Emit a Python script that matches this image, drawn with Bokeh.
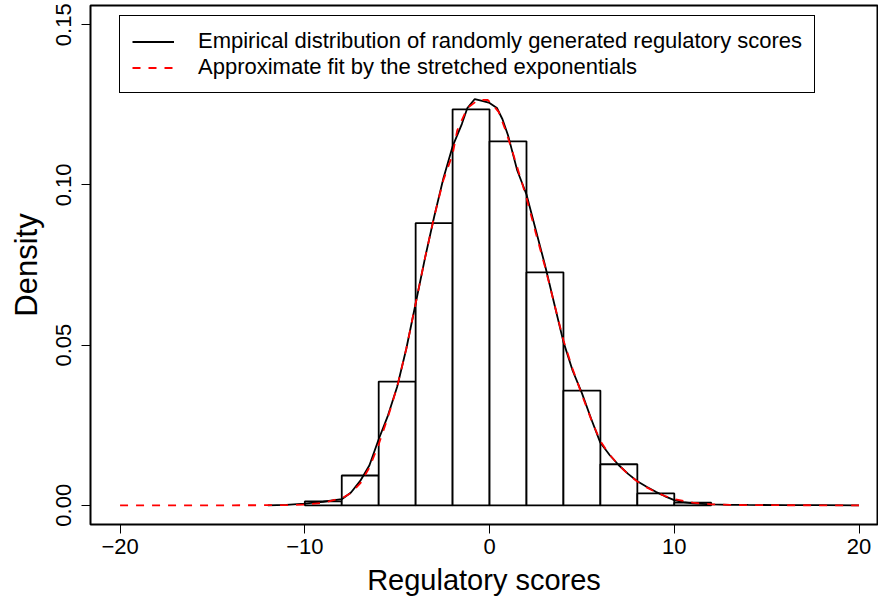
from bokeh.plotting import figure
from bokeh.models import Range1d, Legend, LegendItem, FixedTicker
from bokeh.embed import file_html
from bokeh.resources import INLINE

# Histogram of regulatory scores (density scale), bin width 2
bin_left = [-10, -8, -6, -4, -2, 0, 2, 4, 6, 8, 10]
bin_right = [-8, -6, -4, -2, 0, 2, 4, 6, 8, 10, 12]
hist_density = [0.0012, 0.0093, 0.0386, 0.0881, 0.1236, 0.1136, 0.0727, 0.0358, 0.0128, 0.0037, 0.0008]

# Empirical (kernel) density of randomly generated scores
emp_x = [-12, -11, -10, -9.5, -9, -8.5, -8, -7.5, -7, -6.5, -6, -5.5, -5, -4.5, -4,
         -3.5, -3, -2.5, -2, -1.5, -1.2, -0.8, -0.4, 0, 0.4, 0.7, 1.0, 1.25, 1.5, 2,
         2.5, 3, 3.5, 4, 4.5, 5, 5.5, 6, 6.5, 7, 7.5, 8, 8.5, 9, 9.5, 10, 10.5, 11,
         12, 13, 14, 16, 18, 20]
emp_y = [0.0, 0.0001, 0.0005, 0.0008, 0.0011, 0.0015, 0.0019, 0.0040, 0.0076, 0.0125,
         0.0206, 0.0280, 0.0370, 0.0490, 0.0630, 0.0770, 0.0900, 0.1020, 0.1120, 0.1190,
         0.1240, 0.1268, 0.1262, 0.1256, 0.1240, 0.1205, 0.1155, 0.1100, 0.1045, 0.0970,
         0.0860, 0.0750, 0.0630, 0.0510, 0.0420, 0.0350, 0.0270, 0.0195, 0.0157, 0.0125,
         0.0098, 0.0075, 0.0058, 0.0042, 0.0028, 0.0016, 0.0010, 0.0006, 0.0003, 0.00015,
         0.0001, 0.00005, 0.00002, 0.0]

# Stretched-exponential fit
fit_x = [-20, -16, -14, -12, -11, -10, -9, -8, -7.5, -7, -6.5, -6, -5.5, -5, -4.5, -4,
         -3.5, -3, -2.5, -2, -1.75, -1.2, -0.6, -0.1, 0.15, 0.5, 0.87, 1.23, 1.5, 2,
         2.5, 3, 3.5, 4, 4.5, 5, 5.5, 6, 6.5, 7, 7.5, 8, 8.5, 9, 9.5, 10, 11, 12, 13,
         14, 16, 18, 20]
fit_y = [0.0, 0.0, 0.0, 0.00002, 0.00006, 0.0002, 0.0008, 0.0022, 0.0038, 0.0068,
         0.0118, 0.0190, 0.0275, 0.0370, 0.0490, 0.0630, 0.0770, 0.0900, 0.1015, 0.1095,
         0.1170, 0.1240, 0.1266, 0.1265, 0.1252, 0.1227, 0.1170, 0.1106, 0.1055, 0.0960,
         0.0850, 0.0745, 0.0630, 0.0515, 0.0425, 0.0345, 0.0268, 0.0200, 0.0158, 0.0125,
         0.0097, 0.0074, 0.0056, 0.0041, 0.0029, 0.0019, 0.0008, 0.0003, 0.00012, 0.00005,
         0.00001, 0.0, 0.0]

x_ticks = [-20, -10, 0, 10, 20]
y_ticks = [0.00, 0.05, 0.10, 0.15]
y_tick_labels = {0.0: "0.00", 0.05: "0.05", 0.1: "0.10", 0.15: "0.15"}

FONT = "Liberation Sans"

p = figure(width=878, height=598, output_backend="svg", toolbar_location=None,
           x_range=Range1d(-21.6, 21.0), y_range=Range1d(-0.006, 0.156),
           min_border_left=90, min_border_right=1, min_border_top=5, min_border_bottom=74)
p.background_fill_color = "white"
p.border_fill_color = "white"
p.outline_line_color = "black"
p.outline_line_width = 2
p.xgrid.visible = False
p.ygrid.visible = False

p.quad(left=bin_left, right=bin_right, bottom=0, top=hist_density,
       fill_color="white", line_color="black", line_width=1.8)
emp = p.line(emp_x, emp_y, line_color="black", line_width=1.8)
fit = p.line(fit_x, fit_y, line_color="#ff0000", line_width=1.8, line_dash="8 8")

for ax in (p.xaxis[0], p.yaxis[0]):
    ax.axis_line_color = None
    ax.major_tick_line_color = "black"
    ax.major_tick_line_width = 1
    ax.major_tick_in = 0
    ax.major_tick_out = 9
    ax.minor_tick_line_color = None
    ax.major_label_text_font = FONT
    ax.major_label_text_font_size = "22px"
    ax.major_label_text_color = "black"
    ax.axis_label_text_font = FONT
    ax.axis_label_text_font_style = "normal"
    ax.axis_label_text_color = "black"

p.xaxis.axis_label_text_font_size = "29px"
p.yaxis.axis_label_text_font_size = "31px"
p.xaxis.ticker = FixedTicker(ticks=x_ticks)
p.yaxis.ticker = FixedTicker(ticks=y_ticks)
p.yaxis.major_label_overrides = y_tick_labels
p.xaxis.major_label_overrides = {t: str(t).replace("-", "\u2212") for t in x_ticks}
p.yaxis.major_label_orientation = "vertical"
p.xaxis.axis_label = "Regulatory scores"
p.yaxis.axis_label = "Density"
p.xaxis.major_label_standoff = 5
p.xaxis.axis_label_standoff = 7
p.yaxis.major_label_standoff = 10
p.yaxis.axis_label_standoff = 10

legend = Legend(items=[
    LegendItem(label="Empirical distribution of randomly generated regulatory scores", renderers=[emp]),
    LegendItem(label="Approximate fit by the stretched exponentials", renderers=[fit]),
], location=(29, 431))
legend.border_line_color = "black"
legend.border_line_alpha = 1.0
legend.border_line_width = 1.5
legend.background_fill_alpha = 1
legend.label_text_font = FONT
legend.label_text_font_size = "22px"
legend.label_text_color = "black"
legend.glyph_width = 42
legend.glyph_height = 25
legend.label_height = 25
legend.label_standoff = 24
legend.spacing = 0
legend.padding = 12
legend.margin = 0
p.add_layout(legend)

open("out.html", "w").write(file_html(p, INLINE))
